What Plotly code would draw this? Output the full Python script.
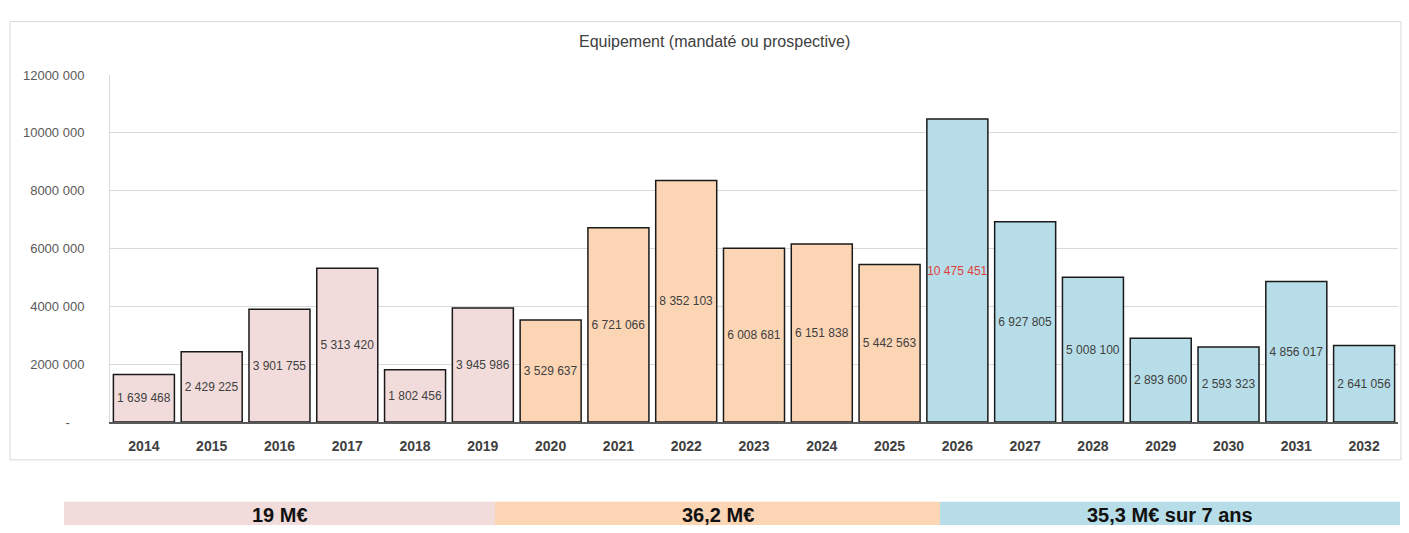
import plotly.graph_objects as go

# ---- data ----
years = ["2014", "2015", "2016", "2017", "2018", "2019", "2020", "2021", "2022", "2023",
         "2024", "2025", "2026", "2027", "2028", "2029", "2030", "2031", "2032"]
values = [1639468, 2429225, 3901755, 5313420, 1802456, 3945986, 3529637, 6721066, 8352103,
          6008681, 6151838, 5442563, 10475451, 6927805, 5008100, 2893600, 2593323, 4856017, 2641056]
period = ["A"] * 6 + ["B"] * 6 + ["C"] * 7
y_tickvals = [0, 2000000, 4000000, 6000000, 8000000, 10000000, 12000000]
y_ticktext = ["-    ", "2000 000", "4000 000", "6000 000", "8000 000", "10000 000", "12000 000"]
title_text = "Equipement (mandaté ou prospective)"
band_labels = ["19 M€", "36,2 M€", "35,3 M€ sur 7 ans"]
highlight_year = "2026"

# ---- style ----
W, H = 1409, 533
period_colors = {"A": "#F2DCDB", "B": "#FCD5B5", "C": "#B7DEE8"}


def px(x):
    return x / W


def py(y):
    return 1 - y / H


def fmt(v):
    return f"{v:,}".replace(",", " ")


bar_colors = [period_colors[p] for p in period]
text_colors = ["#E0403C" if y == highlight_year else "#404040" for y in years]

fig = go.Figure()
fig.add_trace(go.Bar(
    x=years, y=values,
    marker=dict(color=bar_colors, line=dict(color="#1a1a1a", width=1.5)),
    text=[fmt(v) for v in values],
    textposition="inside", insidetextanchor="middle", textangle=0,
    constraintext="none",
    textfont=dict(family="Liberation Sans", size=12, color=text_colors),
    hoverinfo="x+y",
    cliponaxis=False,
))

shapes = [
    # outer frame
    dict(type="rect", xref="paper", yref="paper", x0=px(10), x1=px(1401), y0=py(466), y1=py(15),
         line=dict(color="#d9d9d9", width=1), fillcolor="rgba(0,0,0,0)", layer="below"),
]
band_x = [(64, 495), (495, 940), (940, 1400)]
band_cols = [period_colors["A"], period_colors["B"], period_colors["C"]]
annotations = [
    dict(text=title_text, xref="paper", yref="paper", x=px(714), y=py(36), xanchor="center",
         yanchor="middle", showarrow=False,
         font=dict(family="Liberation Sans", size=16, color="#404040")),
]
for (x0, x1), col, lab in zip(band_x, band_cols, band_labels):
    shapes.append(dict(type="rect", xref="paper", yref="paper", x0=px(x0), x1=px(x1),
                       y0=py(533), y1=py(509), line=dict(width=0), fillcolor=col, layer="below"))
    annotations.append(dict(text="<b>" + lab + "</b>", xref="paper", yref="paper",
                            x=px((x0 + x1) / 2), y=py(523), xanchor="center", yanchor="middle",
                            showarrow=False,
                            font=dict(family="Liberation Sans", size=20, color="#111111")))

fig.update_layout(
    width=W, height=H,
    margin=dict(l=0, r=0, t=0, b=0),
    paper_bgcolor="white", plot_bgcolor="white",
    showlegend=False,
    bargap=0.1,
    shapes=shapes,
    annotations=annotations,
    xaxis=dict(
        domain=[px(110), px(1398)], type="category",
        showline=True, linecolor="#595959", linewidth=1.5,
        ticks="outside", ticklen=10, tickcolor="rgba(0,0,0,0)",
        tickfont=dict(family="Liberation Sans", size=14, color="#404040", weight="bold"),
        showgrid=False,
    ),
    yaxis=dict(
        domain=[py(427), py(70)], range=[0, 12000000],
        tickvals=y_tickvals, ticktext=y_ticktext,
        showline=True, linecolor="#d9d9d9", linewidth=1,
        showgrid=True, gridcolor="#d9d9d9", gridwidth=1,
        zeroline=False,
        ticks="outside", ticklen=22, tickcolor="rgba(0,0,0,0)",
        tickfont=dict(family="Liberation Sans", size=13, color="#595959"),
    ),
)

fig.write_html("out.html")
